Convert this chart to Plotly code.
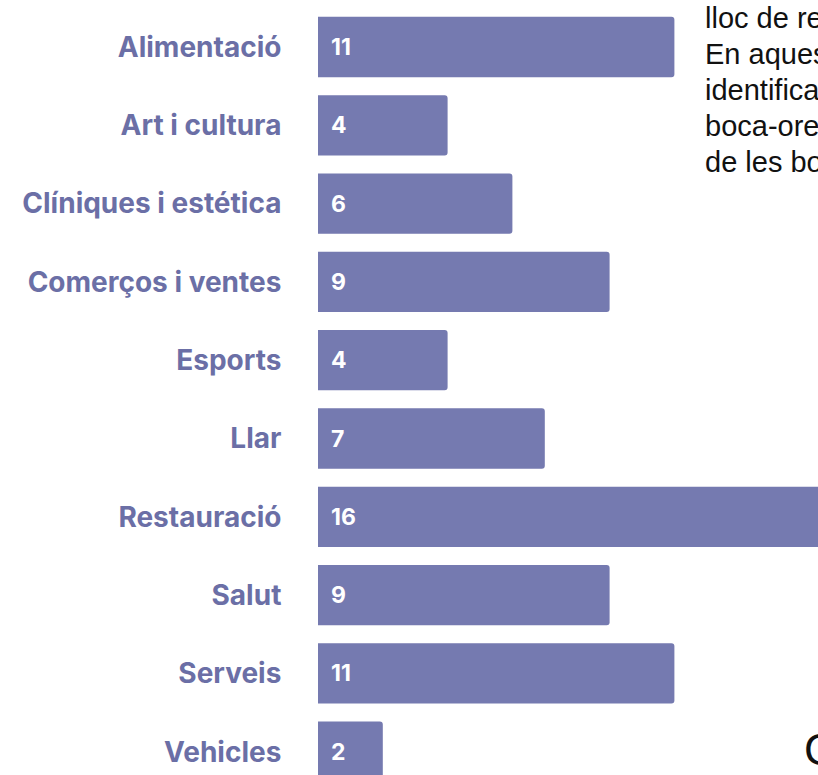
import plotly.graph_objects as go

# Business categories and number of establishments in each
categories = [
    "Alimentació", "Art i cultura", "Clíniques i estética", "Comerços i ventes",
    "Esports", "Llar", "Restauració", "Salut", "Serveis", "Vehicles",
]
counts = [11, 4, 6, 9, 4, 7, 16, 9, 11, 2]

# Fragment of body text running alongside the chart
side_text = ["lloc de re", "En aques", "identifica", "boca-ore", "de les bo"]
corner_letter = "C"

W, H = 818, 775
BAR_COLOR = "#757AB0"
LABEL_COLOR = "#6B6FA6"

fig = go.Figure(
    go.Bar(
        x=counts,
        y=categories,
        orientation="h",
        marker=dict(color=BAR_COLOR, line=dict(width=0), cornerradius=3),
        width=0.77,
        hoverinfo="skip",
    )
)

# value labels at the start of each bar
for cat, val in zip(categories, counts):
    fig.add_annotation(
        x=0, y=cat, xref="x", yref="y", text=str(val),
        showarrow=False, xanchor="left", yanchor="middle", xshift=11,
        font=dict(family="Inter", size=23, color="white", weight=700),
    )

# side text lines
for i, line in enumerate(side_text):
    fig.add_annotation(
        x=703 / W, y=1 - (18 + 36 * i) / H, xref="paper", yref="paper",
        text=line, showarrow=False, xanchor="left", yanchor="middle",
        font=dict(family="Liberation Sans", size=29, color="#111111"),
    )

fig.add_annotation(
    x=802 / W, y=1 - 749 / H, xref="paper", yref="paper",
    text=corner_letter, showarrow=False, xanchor="left", yanchor="middle",
    font=dict(family="Liberation Sans", size=44, color="#111111"),
)

px_per_unit = 32.4
row_pitch = 78.3
first_center = 47
x0 = 318
y_top = -first_center / row_pitch
y_bottom = y_top + H / row_pitch

fig.update_layout(
    width=W, height=H,
    margin=dict(l=0, r=0, t=0, b=0),
    paper_bgcolor="white", plot_bgcolor="white",
    showlegend=False,
    xaxis=dict(
        domain=[x0 / W, 1], range=[0, (W - x0) / px_per_unit],
        visible=False, fixedrange=True,
    ),
    yaxis=dict(
        domain=[0, 1],
        type="category", categoryorder="array", categoryarray=categories,
        range=[y_bottom, y_top],
        showgrid=False, zeroline=False, showline=False,
        ticks="outside", ticklen=30, tickcolor="rgba(0,0,0,0)",
        tickfont=dict(family="Inter", size=28, color=LABEL_COLOR, weight=700),
        fixedrange=True,
    ),
)

fig.write_html("out.html")
